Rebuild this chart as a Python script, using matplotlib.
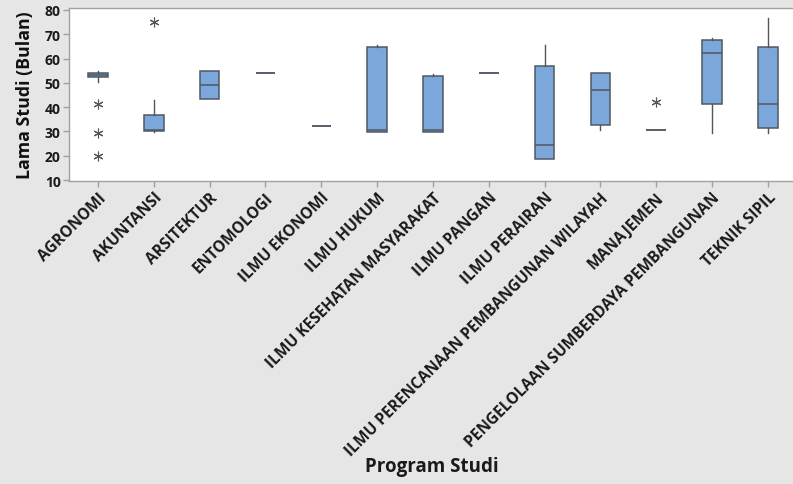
import matplotlib
matplotlib.use("Agg")
import matplotlib.pyplot as plt
import numpy as np

categories = ["AGRONOMI", "AKUNTANSI", "ARSITEKTUR", "ENTOMOLOGI", "ILMU EKONOMI",
              "ILMU HUKUM", "ILMU KESEHATAN MASYARAKAT", "ILMU PANGAN", "ILMU PERAIRAN",
              "ILMU PERENCANAAN PEMBANGUNAN WILAYAH", "MANAJEMEN",
              "PENGELOLAAN SUMBERDAYA PEMBANGUNAN", "TEKNIK SIPIL"]
q1 = [52.4, 30.2, 43.4, 54.0, 32.3, 29.6, 29.6, 54.0, 18.6, 32.8, 30.5, 41.2, 31.4]
med = [53.1, 30.6, 49.0, 54.0, 32.3, 30.4, 30.4, 54.0, 24.6, 47.2, 30.5, 62.3, 41.2]
q3 = [53.9, 36.9, 55.0, 54.0, 32.3, 64.6, 53.0, 54.0, 56.8, 54.1, 30.5, 67.8, 64.6]
whislo = [50.2, 29.6, 43.4, 54.0, 32.3, 29.6, 29.6, 54.0, 18.6, 30.5, 30.5, 29.5, 29.5]
whishi = [54.7, 43.1, 55.0, 54.0, 32.3, 65.5, 53.8, 54.0, 65.6, 54.1, 30.5, 68.3, 76.7]
fliers = [[41.2, 29.5, 19.7], [74.9], [], [], [], [], [], [], [], [], [42.0], [], []]

plt.rcParams['font.family'] = ['Open Sans', 'DejaVu Sans']

fig = plt.figure(figsize=(7.93, 4.85), dpi=100)
fig.patch.set_facecolor('#e6e6e6')
W, H = 793, 485
ax = fig.add_axes([69 / W, 1 - 182 / H, (793 - 69) / W, (182 - 9) / H])
ax.set_facecolor('white')

stats = []
for i, c in enumerate(categories):
    stats.append(dict(label=c, q1=q1[i], med=med[i], q3=q3[i],
                      whislo=whislo[i], whishi=whishi[i], fliers=fliers[i]))

edge = '#4f5864'
ax.bxp(stats, positions=np.arange(1, len(categories) + 1), widths=0.35,
       patch_artist=True, showcaps=False,
       boxprops=dict(facecolor='#7ba7db', edgecolor=edge, linewidth=1.1),
       medianprops=dict(color=edge, linewidth=1.1),
       whiskerprops=dict(color='#555555', linewidth=1.0),
       flierprops=dict(marker=(6, 2, 0), markersize=7, markeredgecolor='#555555',
                       markerfacecolor='none', markeredgewidth=0.8, linestyle='none'))

ax.set_xlim(0.48, 13.45)
ax.set_ylim(9.6, 80.8)
ax.set_yticks(np.arange(10, 81, 10))
ax.set_xticks(np.arange(1, len(categories) + 1))
ax.set_xticklabels(categories, rotation=45, ha='right', rotation_mode='anchor',
                   fontsize=11.2, fontweight='bold', color='#1a1a1a')
for lbl in ax.get_yticklabels():
    lbl.set_fontsize(10)
    lbl.set_fontweight('bold')
    lbl.set_color('#1a1a1a')

for s in ['left', 'bottom', 'top']:
    ax.spines[s].set_color('#a0a0a0')
    ax.spines[s].set_linewidth(1.0)
ax.spines['right'].set_visible(False)
ax.tick_params(axis='both', colors='#a0a0a0', length=4, width=1.0, labelcolor='#1a1a1a', pad=2)

ax.set_ylabel('Lama Studi (Bulan)', fontsize=12.8, fontweight='bold', color='#111111', labelpad=8)
fig.text(432 / W, 1 - 467 / H, 'Program Studi', fontsize=13.5, fontweight='bold',
         color='#1a1a1a', ha='center', va='center')

fig.savefig('out.png', dpi=100, facecolor=fig.get_facecolor())
